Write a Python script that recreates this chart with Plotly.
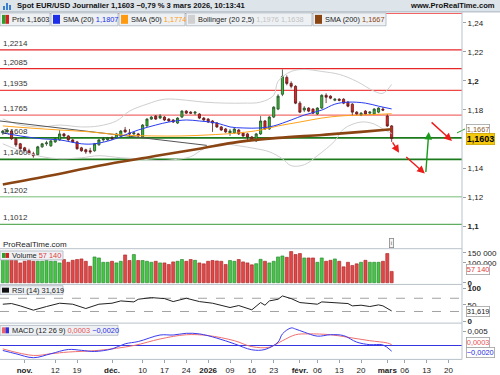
import plotly.graph_objects as go
import pandas as pd

# ---------------- data ----------------
holidays = ["2025-12-25", "2026-01-01"]
all_days = [d.strftime("%Y-%m-%d") for d in pd.bdate_range("2025-10-27", "2026-03-24")]
days = [d for d in all_days if d not in holidays]
day_pos = {d: k for k, d in enumerate(days)}

open_ = [1.1642,1.1649,1.1655,1.1601,1.1567,1.1539,1.1519,1.1498,1.1492,1.1546,
         1.1567,1.1553,1.1580,1.1594,1.1635,1.1621,1.1594,1.1580,1.1539,1.1526,
         1.1519,1.1519,1.1560,1.1594,1.1594,1.1608,1.1608,1.1621,1.1662,1.1642,
         1.1635,1.1635,1.1614,1.1690,1.1737,1.1758,1.1744,1.1751,1.1737,1.1731,
         1.1710,1.1751,1.1792,1.1785,1.1778,1.1772,1.1744,1.1737,1.1724,1.1710,
         1.1683,1.1669,1.1642,1.1642,1.1662,1.1642,1.1635,1.1614,1.1587,1.1635,
         1.1724,1.1669,1.1751,1.1806,1.1908,1.2024,1.1983,1.1963,1.1847,1.1799,
         1.1813,1.1806,1.1772,1.1813,1.1901,1.1895,1.1867,1.1874,1.1874,1.1854,
         1.1840,1.1785,1.1765,1.1792,1.1778,1.1772,1.1785,1.1806,1.1758,1.1690]
high = [1.1662,1.1676,1.1662,1.1608,1.1573,1.1546,1.1533,1.1512,1.1553,1.1573,
        1.1587,1.1594,1.1608,1.1662,1.1642,1.1628,1.1601,1.1587,1.1546,1.1533,
        1.1539,1.1573,1.1601,1.1614,1.1614,1.1621,1.1642,1.1662,1.1683,1.1669,
        1.1649,1.1642,1.1703,1.1744,1.1758,1.1765,1.1772,1.1758,1.1744,1.1737,
        1.1751,1.1799,1.1799,1.1792,1.1792,1.1778,1.1751,1.1744,1.1731,1.1717,
        1.1690,1.1676,1.1669,1.1676,1.1669,1.1649,1.1642,1.1621,1.1642,1.1758,
        1.1731,1.1758,1.1826,1.1908,1.2079,1.2038,1.1997,1.1970,1.1860,1.1826,
        1.1819,1.1813,1.1819,1.1908,1.1915,1.1901,1.1881,1.1881,1.1881,1.1860,
        1.1847,1.1792,1.1785,1.1799,1.1792,1.1813,1.1819,1.1819,1.1772,1.1696]
low = [1.1628,1.1642,1.1594,1.1546,1.1526,1.1512,1.1492,1.1471,1.1485,1.1539,
       1.1553,1.1546,1.1573,1.1587,1.1614,1.1587,1.1573,1.1526,1.1512,1.1498,
       1.1498,1.1512,1.1553,1.1580,1.1587,1.1594,1.1601,1.1614,1.1642,1.1614,
       1.1628,1.1608,1.1608,1.1683,1.1731,1.1731,1.1737,1.1724,1.1717,1.1710,
       1.1703,1.1744,1.1772,1.1772,1.1765,1.1737,1.1724,1.1710,1.1649,1.1676,
       1.1655,1.1642,1.1621,1.1635,1.1628,1.1614,1.1587,1.1587,1.1580,1.1628,
       1.1662,1.1662,1.1744,1.1799,1.1895,1.1970,1.1949,1.1840,1.1778,1.1785,
       1.1785,1.1772,1.1765,1.1806,1.1847,1.1874,1.1860,1.1860,1.1840,1.1819,
       1.1758,1.1765,1.1758,1.1765,1.1765,1.1765,1.1778,1.1792,1.1683,1.1580]
close = [1.1655,1.1662,1.1601,1.1560,1.1533,1.1519,1.1498,1.1485,1.1546,1.1567,
         1.1573,1.1587,1.1601,1.1635,1.1621,1.1594,1.1580,1.1533,1.1519,1.1512,
         1.1512,1.1567,1.1594,1.1601,1.1608,1.1601,1.1635,1.1655,1.1649,1.1635,
         1.1642,1.1621,1.1696,1.1737,1.1751,1.1737,1.1758,1.1731,1.1724,1.1717,
         1.1744,1.1792,1.1778,1.1778,1.1785,1.1744,1.1731,1.1717,1.1710,1.1683,
         1.1662,1.1649,1.1655,1.1669,1.1635,1.1621,1.1614,1.1594,1.1635,1.1724,
         1.1669,1.1751,1.1819,1.1895,1.2031,1.1983,1.1963,1.1847,1.1785,1.1813,
         1.1792,1.1778,1.1813,1.1901,1.1888,1.1881,1.1874,1.1867,1.1847,1.1826,
         1.1785,1.1772,1.1778,1.1772,1.1785,1.1806,1.1813,1.1799,1.1690,1.1603]
volume = [117000,117000,117000,112000,100000,108000,117000,108000,108000,108000,
          112000,108000,108000,100000,117000,103000,113000,117000,120000,108000,
          83000,130000,125000,103000,103000,108000,100000,108000,140000,112000,
          142000,112000,112000,108000,103000,108000,100000,100000,92000,105000,
          108000,117000,108000,117000,113000,100000,95000,108000,112000,110000,
          108000,92000,112000,108000,117000,105000,100000,90000,96000,118000,
          108000,100000,108000,130000,135000,128000,157000,142000,147000,125000,
          125000,125000,103000,125000,108000,113000,120000,108000,80000,103000,
          87000,95000,103000,113000,103000,103000,103000,108000,147000,57140]

# indicator lines read at sampled trading-day numbers
sma20_day = [0,4,9,13,18,21,25,28,31,35,38,42,45,49,52,55,59,62,66,69,73,76,79,83,86,89]
sma20_val = [1.1642,1.1621,1.1601,1.1594,1.1567,1.1567,1.1594,1.1628,1.1662,1.1696,1.1717,1.1731,1.1724,
             1.1710,1.1683,1.1676,1.1676,1.1690,1.1731,1.1765,1.1799,1.1840,1.1854,1.1847,1.1826,1.1807]
sma50_day = [0,6,13,20,27,34,41,47,54,59,63,68,73,77,82,89]
sma50_val = [1.1690,1.1676,1.1662,1.1649,1.1628,1.1621,1.1621,1.1628,1.1642,1.1662,1.1690,1.1717,
             1.1744,1.1758,1.1765,1.1774]
sma200_day = [0,11,22,34,45,54,63,73,82,89]
sma200_val = [1.1287,1.1348,1.1416,1.1478,1.1533,1.1580,1.1608,1.1628,1.1649,1.1667]
boll_up_day = [0,4,9,13,18,22,26,29,33,37,42,46,51,55,59,62,63,66,69,73,77,81,85,87,89]
boll_up_val = [1.1738,1.1697,1.1683,1.1696,1.1683,1.1690,1.1724,1.1792,1.1840,1.1874,1.1867,1.1854,1.1847,
               1.1847,1.1854,1.1901,1.1997,1.2065,1.2079,1.2065,1.2045,1.1997,1.1929,1.1915,1.1976]
boll_lo_day = [0,4,9,13,18,22,27,31,36,39,43,46,50,54,58,61,64,66,69,72,76,78,82,85,87,89]
boll_lo_val = [1.1567,1.1519,1.1478,1.1464,1.1471,1.1485,1.1471,1.1464,1.1451,1.1457,1.1478,1.1533,1.1567,
               1.1553,1.1533,1.1512,1.1464,1.1416,1.1423,1.1485,1.1587,1.1669,1.1717,1.1703,1.1669,1.1638]
trend_day = [-0.64, 46.7]
trend_val = [1.1724, 1.1556]

levels_red = [1.2214, 1.2085, 1.1935, 1.1765]
levels_green = [1.1608, 1.1460, 1.1202, 1.1012]
level_top = 1.2466

rsi_day = [0,2,4,7,10,13,16,19,22,25,27,30,31,34,37,39,42,45,48,52,54,57,59,60,61,63,64,66,68,70,72,73,76,79,80,82,84,86,87,89]
rsi_val = [52,54,47,34,45,55,52,39,52,55,62,59,67,72,69,60,70,60,55,42,48,35,57,49,62,67,77,69,57,55,52,59,57,54,47,49,45,50,47,31.619]
macd_day = [0,3,7,11,15,18,21,25,28,31,36,39,42,45,49,53,57,60,63,64,66,67,69,72,75,78,81,84,87,89]
macd_val = [-0.00175,-0.0029,-0.0043,-0.0029,-0.0014,-0.0017,-0.0021,-0.0012,0.0006,0.0014,0.0037,0.0037,
            0.0043,0.0041,0.0026,0.0006,-0.0015,-0.0014,0.0012,0.0041,0.0062,0.0058,0.0047,0.0033,0.0038,
            0.0035,0.0012,0.0003,0.0002,-0.0020]
signal_day = [0,7,11,15,22,30,36,42,47,53,57,61,64,67,70,75,79,84,88,89]
signal_val = [-0.0012,-0.0035,-0.0029,-0.0023,-0.0017,0.0000,0.0023,0.0038,0.0035,0.0017,-0.0004,-0.0006,
              0.0017,0.0038,0.0041,0.0038,0.0029,0.0017,0.0009,0.0003]

# hand-drawn arrows: (day_from, value_from, day_to, value_to, colour)
arrows = [(89.0, 1.1587, 90.7, 1.1505, "#ee1b1b"),
          (92.0, 1.1485, 96.6, 1.1362, "#ee1b1b"),
          (96.8, 1.1362, 97.5, 1.1649, "#1a9a1a"),
          (97.8, 1.1724, 102.8, 1.1587, "#ee1b1b")]

tick_dates = ["2025-11-03","2025-11-12","2025-11-19","2025-12-01","2025-12-10","2025-12-17","2025-12-24",
              "2026-01-02","2026-01-09","2026-01-16","2026-01-23","2026-02-02","2026-02-06","2026-02-13",
              "2026-02-20","2026-03-02","2026-03-06","2026-03-13","2026-03-20"]
tick_text = ["<b>nov.</b>","12","19","<b>déc.</b>","10","17","24","<b>2026</b>","09","16","23",
             "<b>févr.</b>","06","13","20","<b>mars</b>","06","13","20"]

# ---------------- figure ----------------
FONT = "Liberation Sans, Arial, sans-serif"
W, H = 500, 375
XR = 462 / W


def px(x):
    return x / W


def py(y):
    return 1 - y / H


x_idx = list(range(len(close)))
fig = go.Figure()

fig.add_trace(go.Scatter(x=boll_up_day, y=boll_up_val, mode="lines", line=dict(color="#cfcfcf", width=1, shape="spline"), yaxis="y"))
fig.add_trace(go.Scatter(x=boll_lo_day, y=boll_lo_val, mode="lines", line=dict(color="#cfcfcf", width=1, shape="spline"), yaxis="y"))
fig.add_trace(go.Scatter(x=trend_day, y=trend_val, mode="lines", line=dict(color="#555555", width=1), yaxis="y"))
fig.add_trace(go.Scatter(x=sma200_day, y=sma200_val, mode="lines", line=dict(color="#8b4513", width=2.6, shape="spline"), yaxis="y"))
fig.add_trace(go.Scatter(x=sma50_day, y=sma50_val, mode="lines", line=dict(color="#ffa31a", width=1, shape="spline"), yaxis="y"))
fig.add_trace(go.Scatter(x=sma20_day, y=sma20_val, mode="lines", line=dict(color="#2a3cf0", width=1, shape="spline"), yaxis="y"))
fig.add_trace(go.Candlestick(
    x=x_idx, open=open_, high=high, low=low, close=close, xaxis="x", yaxis="y",
    increasing=dict(fillcolor="#2ec22e", line=dict(color="#2a4a2a", width=0.8)),
    decreasing=dict(fillcolor="#e22424", line=dict(color="#5a1a1a", width=0.8)),
    whiskerwidth=0, hoverinfo="skip"))

vol_colors = ["#45c445" if c >= o else "#e04848" for o, c in zip(open_, close)]
vol_lines = ["#23822a" if c >= o else "#a52020" for o, c in zip(open_, close)]
fig.add_trace(go.Bar(x=x_idx, y=volume, yaxis="y2", width=0.7,
                     marker=dict(color=vol_colors, line=dict(color=vol_lines, width=0.6))))

fig.add_trace(go.Scatter(x=rsi_day, y=rsi_val, mode="lines", line=dict(color="#222222", width=1), yaxis="y3"))
fig.add_trace(go.Scatter(x=signal_day, y=signal_val, mode="lines", line=dict(color="#f07070", width=1, shape="spline"), yaxis="y4"))
fig.add_trace(go.Scatter(x=macd_day, y=macd_val, mode="lines", line=dict(color="#3b3bf0", width=1, shape="spline"), yaxis="y4"))

shapes = []
annotations = []

# title bar
shapes.append(dict(type="rect", xref="paper", yref="paper", x0=0, x1=1, y0=py(12), y1=1,
                   fillcolor="#dde4ea", line=dict(width=0), layer="above"))
shapes.append(dict(type="line", xref="paper", yref="paper", x0=0, x1=1, y0=py(12), y1=py(12),
                   line=dict(color="#aab5bf", width=1), layer="above"))
for bx, bh in [(3, 4), (6, 7), (9, 5)]:
    shapes.append(dict(type="rect", xref="paper", yref="paper", x0=px(bx), x1=px(bx + 2),
                       y0=py(10), y1=py(10 - bh), fillcolor="#3a7fd0", line=dict(width=0), layer="above"))
annotations.append(dict(x=px(15), y=py(6), xref="paper", yref="paper", xanchor="left", yanchor="middle",
                        text="<b>Spot EUR/USD Journalier 1,1603 −0,79 % 3 mars 2026, 10:13:41</b>",
                        showarrow=False, font=dict(size=7.6, color="#111", family=FONT)))
annotations.append(dict(x=px(497), y=py(6), xref="paper", yref="paper", xanchor="right", yanchor="middle",
                        text="<b>www.ProRealTime.com</b>", showarrow=False, font=dict(size=7.6, color="#111", family=FONT)))

# horizontal levels
shapes.append(dict(type="line", xref="paper", yref="y", x0=0, x1=XR, y0=level_top, y1=level_top,
                   line=dict(color="#ee3030", width=1.2), layer="below"))
red_cols = ["#e8262a", "#e8262a", "#f04545", "#f26d6d"]
for v, c in zip(levels_red, red_cols):
    shapes.append(dict(type="line", xref="paper", yref="y", x0=0, x1=XR, y0=v, y1=v,
                       line=dict(color=c, width=1.2), layer="below"))
green_cols = ["#1c7a1c", "#1c7a1c", "#a3d3a3", "#5fae5f"]
green_w = [1.6, 1.6, 1.6, 1.2]
for v, c, w in zip(levels_green, green_cols, green_w):
    shapes.append(dict(type="line", xref="paper", yref="y", x0=0, x1=XR, y0=v, y1=v,
                       line=dict(color=c, width=w), layer="below"))
for v in levels_red + levels_green:
    annotations.append(dict(x=px(1), y=v, xref="paper", yref="y", xanchor="left", yanchor="bottom",
                            text=f"{v:.4f}".replace(".", ","), showarrow=False, yshift=0,
                            font=dict(size=8, color="#333", family=FONT)))

# arrows
for d0, v0, d1, v1, col in arrows:
    annotations.append(dict(x=d1, y=v1, ax=d0, ay=v0, xref="x", yref="y", axref="x", ayref="y",
                            text="", showarrow=True, arrowhead=2, arrowsize=1.1, arrowwidth=1.4,
                            arrowcolor=col))
shapes.append(dict(type="line", xref="paper", yref="paper", x0=px(457), x1=px(465), y0=py(134), y1=py(130),
                   line=dict(color="#1a9a1a", width=1)))

# RSI guide lines and MACD zero line
for v in [70, 30]:
    shapes.append(dict(type="line", xref="paper", yref="y3", x0=0, x1=XR, y0=v, y1=v,
                       line=dict(color="#8a8a8a", width=0.8, dash="dash"), layer="below"))
shapes.append(dict(type="line", xref="paper", yref="y4", x0=0, x1=XR, y0=0, y1=0,
                   line=dict(color="#3434e0", width=1.2), layer="below"))

# panel separators and right axis
for yy in [250.7, 286.7, 325.7, 362.3]:
    shapes.append(dict(type="line", xref="paper", yref="paper", x0=0, x1=XR, y0=py(yy), y1=py(yy),
                       line=dict(color="#b9c2ca", width=1), layer="above"))
shapes.append(dict(type="line", xref="paper", yref="paper", x0=XR, x1=XR, y0=py(362.3), y1=py(12),
                   line=dict(color="#b9c2ca", width=1), layer="above"))


def legend_box(x0, x1, y0, y1, icon_cols, html):
    shapes.append(dict(type="rect", xref="paper", yref="paper", x0=px(x0), x1=px(x1), y0=py(y1), y1=py(y0),
                       fillcolor="#eef1f4", line=dict(color="#a9b3bc", width=0.8), layer="above"))
    n = len(icon_cols)
    wseg = 7 / n
    for k, c in enumerate(icon_cols):
        shapes.append(dict(type="rect", xref="paper", yref="paper", x0=px(x0 + 2 + k * wseg),
                           x1=px(x0 + 2 + (k + 1) * wseg), y0=py(y1 - 2), y1=py(y0 + 2),
                           fillcolor=c, line=dict(width=0), layer="above"))
    annotations.append(dict(x=px(x0 + 10), y=py((y0 + y1) / 2), xref="paper", yref="paper",
                            xanchor="left", yanchor="middle", text=html, showarrow=False,
                            font=dict(size=7.4, color="#222", family=FONT)))


legend_box(0, 50, 13, 26, ["#2aa02a", "#d42020"], "Prix 1,1603")
legend_box(51, 118, 13, 26, ["#1f2fe8"], "SMA (20) <span style='color:#2030e8'>1,1807</span>")
legend_box(119, 185, 13, 26, ["#ff9a10"], "SMA (50) <span style='color:#ff9a10'>1,1774</span>")
legend_box(186, 312, 13, 26, ["#d0d0d0"], "Bollinger (20 2,5) <span style='color:#c2c2c2'>1,1976 1,1638</span>")
legend_box(313, 386, 13, 26, ["#8b4513"], "SMA (200) <span style='color:#8b4513'>1,1667</span>")
legend_box(0, 63, 253, 262, ["#2aa02a", "#d42020"], "Volume <span style='color:#e04040'>57 140</span>")
legend_box(0, 63, 288, 297, ["#111111"], "RSI (14) 31,619")
legend_box(0, 118, 328, 338, ["#f06060", "#3030e0"],
           "MACD (12 26 9) <span style='color:#e85050'>0,0003</span> <span style='color:#2a2ae0'>−0,0020</span>")

annotations.append(dict(x=px(1), y=py(246), xref="paper", yref="paper", xanchor="left", yanchor="middle",
                        text="ProRealTime.com", showarrow=False, font=dict(size=8, color="#222", family=FONT)))
annotations.append(dict(x=px(391), y=py(245), xref="paper", yref="paper", xanchor="center", yanchor="middle",
                        text="i", showarrow=False, bordercolor="#888", borderwidth=0.8, borderpad=1,
                        bgcolor="#f4f4f4", font=dict(size=6, color="#555", family=FONT)))


def value_box(yref, val, text, col, bg="#ffffff", border="#a0a0a0", bold=False, shift=0):
    annotations.append(dict(x=px(466), y=val, xref="paper", yref=yref, xanchor="left", yanchor="middle",
                            text=f"<b>{text}</b>" if bold else text, showarrow=False, bgcolor=bg,
                            bordercolor=border, borderwidth=0.8, borderpad=0, yshift=shift,
                            font=dict(size=7.4 if not bold else 9, color=col, family=FONT)))


value_box("y", sma200_val[-1], "1,1667", "#8b5a2b")
value_box("y", close[-1], "1,1603", "#000000", bg="#f4c80c", border="#c9a100", bold=True)
value_box("y2", volume[-1], "57 140", "#e04040", shift=1.5)
value_box("y3", rsi_val[-1], "31,619", "#222222", shift=-0.5)
value_box("y4", signal_val[-1], "0,0003", "#e85050", shift=2)
value_box("y4", macd_val[-1], "−0,0020", "#2a2ae0", shift=-1.5)

axis_common = dict(showgrid=False, zeroline=False, showline=False, side="right", anchor="x",
                   ticks="outside", ticklen=3, tickcolor="#9aa4ad",
                   tickfont=dict(size=8, color="#222", family=FONT), fixedrange=True)

fig.update_layout(
    width=W, height=H, margin=dict(l=0, r=0, t=0, b=0),
    paper_bgcolor="white", plot_bgcolor="white", showlegend=False,
    font=dict(family=FONT, size=8, color="#222"),
    xaxis=dict(domain=[0, XR], range=[-0.64, 105.1], anchor="y4", showgrid=False, zeroline=False,
               showline=False, tickmode="array", tickvals=[day_pos[d] for d in tick_dates], ticktext=tick_text,
               ticks="outside", ticklen=3, tickcolor="#9aa4ad", tickfont=dict(size=8, color="#222", family=FONT),
               rangeslider=dict(visible=False), fixedrange=True),
    yaxis=dict(domain=[py(250.7), py(13)], range=[1.08447, 1.24683], tickmode="array",
               tickvals=[1.1, 1.12, 1.14, 1.18, 1.2, 1.22, 1.24],
               ticktext=["<b>1,1</b>", "1,12", "1,14", "1,18", "<b>1,2</b>", "1,22", "1,24"], **axis_common),
    yaxis2=dict(domain=[py(286.7), py(250.7)], range=[-8500, 171500], tickmode="array",
                tickvals=[0, 100000, 150000], ticktext=["<b>0</b>", "100 000", "150 000"], **axis_common),
    yaxis3=dict(domain=[py(325.7), py(286.7)], range=[-5.1, 111.9], tickmode="array",
                tickvals=[0, 50, 100], ticktext=["<b>0</b>", "50", "<b>100</b>"], **axis_common),
    yaxis4=dict(domain=[py(362.3), py(325.7)], range=[-0.004895, 0.007902], tickmode="array",
                tickvals=[0.005], ticktext=["0,005"], **axis_common),
    shapes=shapes, annotations=annotations,
)

fig.write_html("out.html", config={"displayModeBar": False},
               post_script="document.body.style.margin='0';document.body.style.padding='0';document.body.style.overflow='hidden';")
